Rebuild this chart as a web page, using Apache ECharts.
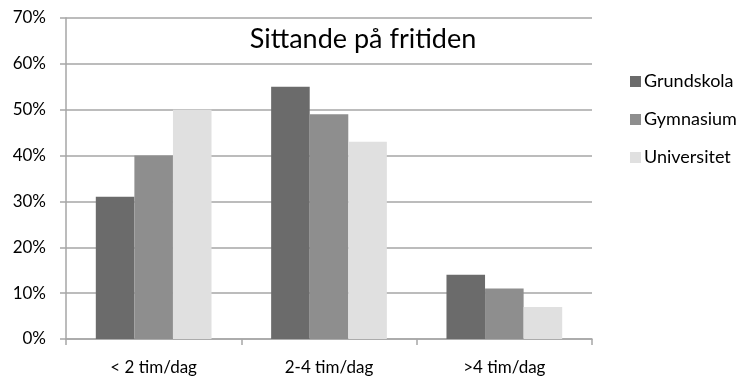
<!DOCTYPE html>
<html><head><meta charset="utf-8">
<script src="https://cdn.jsdelivr.net/npm/echarts@6/dist/echarts.min.js"></script>
<style>html,body{margin:0;padding:0;background:#fff}#c{width:744px;height:379px}</style>
</head><body><div id="c"></div>
<script>
const categories = ['< 2 tim/dag', '2-4 tim/dag', '>4 tim/dag'];
const grundskola = [31, 55, 14];
const gymnasium = [40, 49, 11];
const universitet = [50, 43, 7];
const seriesNames = ['Grundskola', 'Gymnasium', 'Universitet'];
const colors = ['#6b6b6b', '#8e8e8e', '#e0e0e0'];
const font = 'Lato, "Open Sans", sans-serif';
const chart = echarts.init(document.getElementById('c'));
const mk = (name, data, i) => ({
  name, type: 'bar', data, barGap: '0%', barCategoryGap: '34%',
  itemStyle: { color: colors[i] }, animation: false
});
chart.setOption({
  animation: false,
  textStyle: { fontFamily: font },
  title: {
    text: 'Sittande på fritiden', left: 358, top: 21, textAlign: 'center',
    textStyle: { fontFamily: font, fontSize: 27, fontWeight: 'normal', color: '#000' }
  },
  legend: {
    orient: 'vertical', left: 625, top: 66, icon: 'rect',
    itemWidth: 11, itemHeight: 11, itemGap: 17,
    textStyle: { fontFamily: font, fontSize: 18, color: '#000', lineHeight: 21, padding: [0, 0, 0, -2] },
    data: seriesNames
  },
  grid: { left: 66, right: 152, top: 18, bottom: 40 },
  xAxis: {
    type: 'category', data: categories,
    axisLine: { lineStyle: { color: '#a6a6a6', width: 1.5 } },
    axisTick: { show: true, length: 6, lineStyle: { color: '#a6a6a6', width: 1.5 } },
    axisLabel: { color: '#000', fontSize: 17, margin: 20, fontFamily: font }
  },
  yAxis: {
    type: 'value', min: 0, max: 70, interval: 10,
    axisLine: { show: true, lineStyle: { color: '#a6a6a6', width: 1.5 } },
    axisTick: { show: true, inside: false, length: 6, lineStyle: { color: '#a6a6a6', width: 1.5 } },
    splitLine: { lineStyle: { color: '#a6a6a6', width: 1.5 } },
    axisLabel: { color: '#000', fontSize: 17, margin: 20, formatter: '{value}%', fontFamily: font }
  },
  series: [mk(seriesNames[0], grundskola, 0), mk(seriesNames[1], gymnasium, 1), mk(seriesNames[2], universitet, 2)]
});
</script></body></html>
